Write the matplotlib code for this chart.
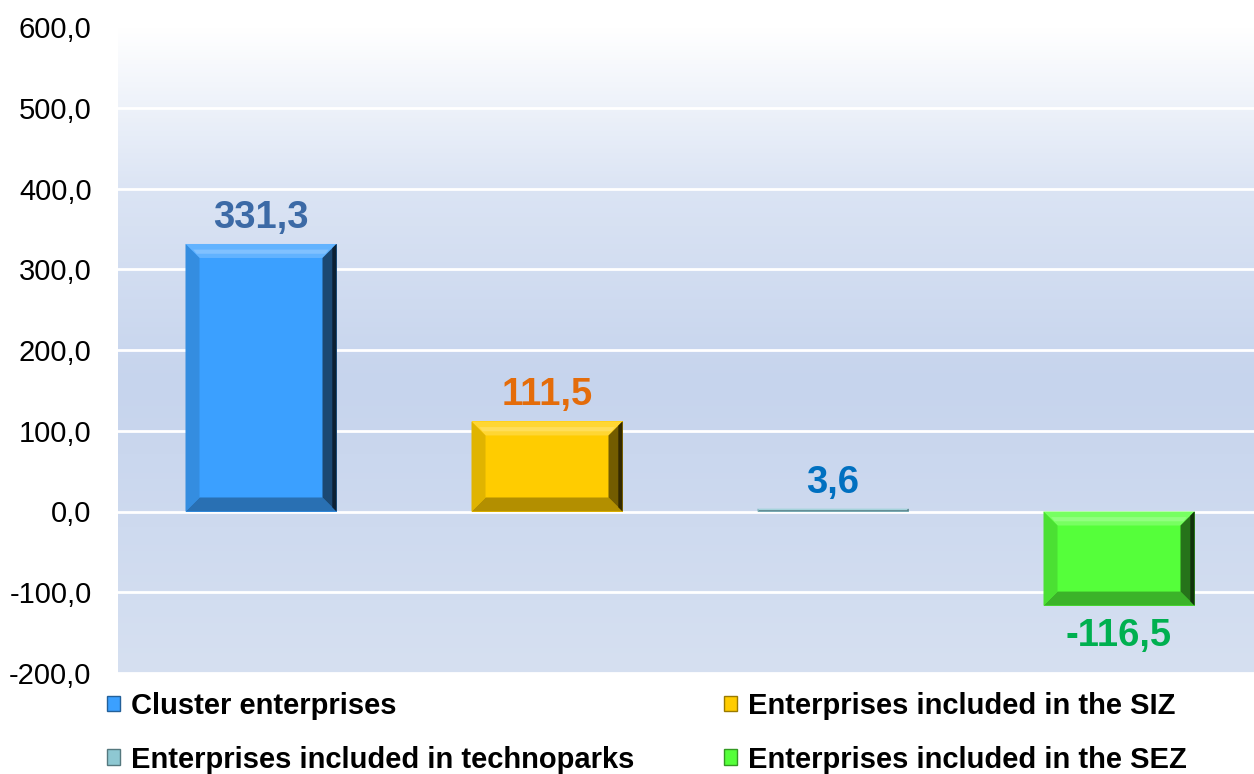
import matplotlib
matplotlib.use("Agg")
import matplotlib.pyplot as plt
import numpy as np
from matplotlib.patches import Polygon, Rectangle, Patch
from matplotlib.colors import to_rgb, LinearSegmentedColormap
from matplotlib.ticker import FuncFormatter

plt.rcParams['font.family'] = ['Liberation Sans', 'DejaVu Sans']

categories = ["Cluster enterprises", "Enterprises included in the SIZ",
              "Enterprises included in technoparks", "Enterprises included in the SEZ"]
values = [331.3, 111.5, 3.6, -116.5]
value_labels = ["331,3", "111,5", "3,6", "-116,5"]
bar_colors = ["#3BA0FF", "#FFCC00", "#8EC8D2", "#55FF3A"]
label_colors = ["#3C6AA6", "#E46C0A", "#0070C0", "#00B050"]
y_ticks = [-200, -100, 0, 100, 200, 300, 400, 500, 600]

W, H = 1254, 774
AX_L, AX_R, AX_T, AX_B = 118, 1262, 27, 673
fig = plt.figure(figsize=(W / 100, H / 100), dpi=100)
ax = fig.add_axes([AX_L / W, 1 - AX_B / H, (AX_R - AX_L) / W, (AX_B - AX_T) / H])
ax.set_xlim(0, 4)
ax.set_ylim(-200, 600)

# background gradient
cmap = LinearSegmentedColormap.from_list("bg", [(0.0, "#d6e0f1"), (0.45, "#c6d4ed"), (0.75, "#dbe4f4"), (1.0, "#ffffff")])
grad = np.linspace(0, 1, 256).reshape(-1, 1)
ax.imshow(grad, extent=[0, 4, -200, 600], origin="lower", aspect="auto", cmap=cmap, zorder=0)

for yt in y_ticks:
    ax.axhline(yt, color="white", lw=2, zorder=1)

def shade(c, f):
    r = np.array(to_rgb(c))
    if f >= 0:
        return tuple(r + (1 - r) * f)
    return tuple(r * (1 + f))

px_x = (AX_R - AX_L) / 4.0
px_y = (AX_B - AX_T) / 800.0
bw = 151 / px_x
bev = 14

xs = np.arange(len(values)) + 0.5
for x, v, c in zip(xs, values, bar_colors):
    x0, x1 = x - bw / 2, x + bw / 2
    y0, y1 = min(0, v), max(0, v)
    ax.add_patch(Rectangle((x0, y0), x1 - x0, y1 - y0, facecolor=c, edgecolor="none", zorder=3))
    h_px = (y1 - y0) * px_y
    bp = min(bev, h_px / 2)
    bx = bp / px_x
    by = bp / px_y
    top = [(x0, y1), (x1, y1), (x1 - bx, y1 - by), (x0 + bx, y1 - by)]
    bot = [(x0, y0), (x1, y0), (x1 - bx, y0 + by), (x0 + bx, y0 + by)]
    left = [(x0, y0), (x0, y1), (x0 + bx, y1 - by), (x0 + bx, y0 + by)]
    right = [(x1, y0), (x1, y1), (x1 - bx, y1 - by), (x1 - bx, y0 + by)]
    ax.add_patch(Polygon(top, closed=True, facecolor=shade(c, 0.2), edgecolor="none", zorder=4))
    ax.add_patch(Polygon(bot, closed=True, facecolor=shade(c, -0.3), edgecolor="none", zorder=4))
    ax.add_patch(Polygon(left, closed=True, facecolor=shade(c, -0.12), edgecolor="none", zorder=4))
    ax.add_patch(Polygon(right, closed=True, facecolor=shade(c, -0.55), edgecolor="none", zorder=4))
    if h_px > 6:
        ax.add_patch(Polygon([(x0 + bx * 0.55, y1 - by * 0.4), (x1 - bx * 0.55, y1 - by * 0.4),
                              (x1 - bx * 0.8, y1 - by * 0.7), (x0 + bx * 0.8, y1 - by * 0.7)],
                             closed=True, facecolor=shade(c, 0.35), edgecolor="none", zorder=4))
        ax.add_patch(Polygon([(x1, y0), (x1, y1), (x1 - bx * 0.3, y1 - by * 0.3), (x1 - bx * 0.3, y0 + by * 0.3)],
                             closed=True, facecolor=shade(c, -0.8), edgecolor="none", zorder=4))

for x, v, lab, lc in zip(xs, values, value_labels, label_colors):
    if v >= 0:
        ax.text(x, v + 10, lab, ha="center", va="bottom", fontsize=27.5, fontweight="bold", color=lc, zorder=5)
    else:
        ax.text(x, v - 16, lab, ha="center", va="top", fontsize=27.5, fontweight="bold", color=lc, zorder=5)

ax.set_yticks(y_ticks)
ax.yaxis.set_major_formatter(FuncFormatter(lambda v, p: f"{v:.1f}".replace(".", ",")))
ax.set_xticks([])
ax.tick_params(axis="y", length=0, pad=19, labelsize=21)
for s in ax.spines.values():
    s.set_visible(False)

handles = [Patch(facecolor=c, edgecolor=shade(c, -0.4), linewidth=1) for c in bar_colors]
order = [0, 2, 1, 3]
leg = fig.legend([handles[i] for i in order], [categories[i] for i in order],
                 ncol=2, loc="upper left", bbox_to_anchor=(107 / W, 1 - 692 / H),
                 frameon=False, handlelength=0.45, handleheight=0.45, handletextpad=0.38,
                 columnspacing=3.05, labelspacing=0.88,
                 prop={"size": 21, "weight": "bold"}, borderaxespad=0, borderpad=0)

fig.savefig("out.png", dpi=100)
